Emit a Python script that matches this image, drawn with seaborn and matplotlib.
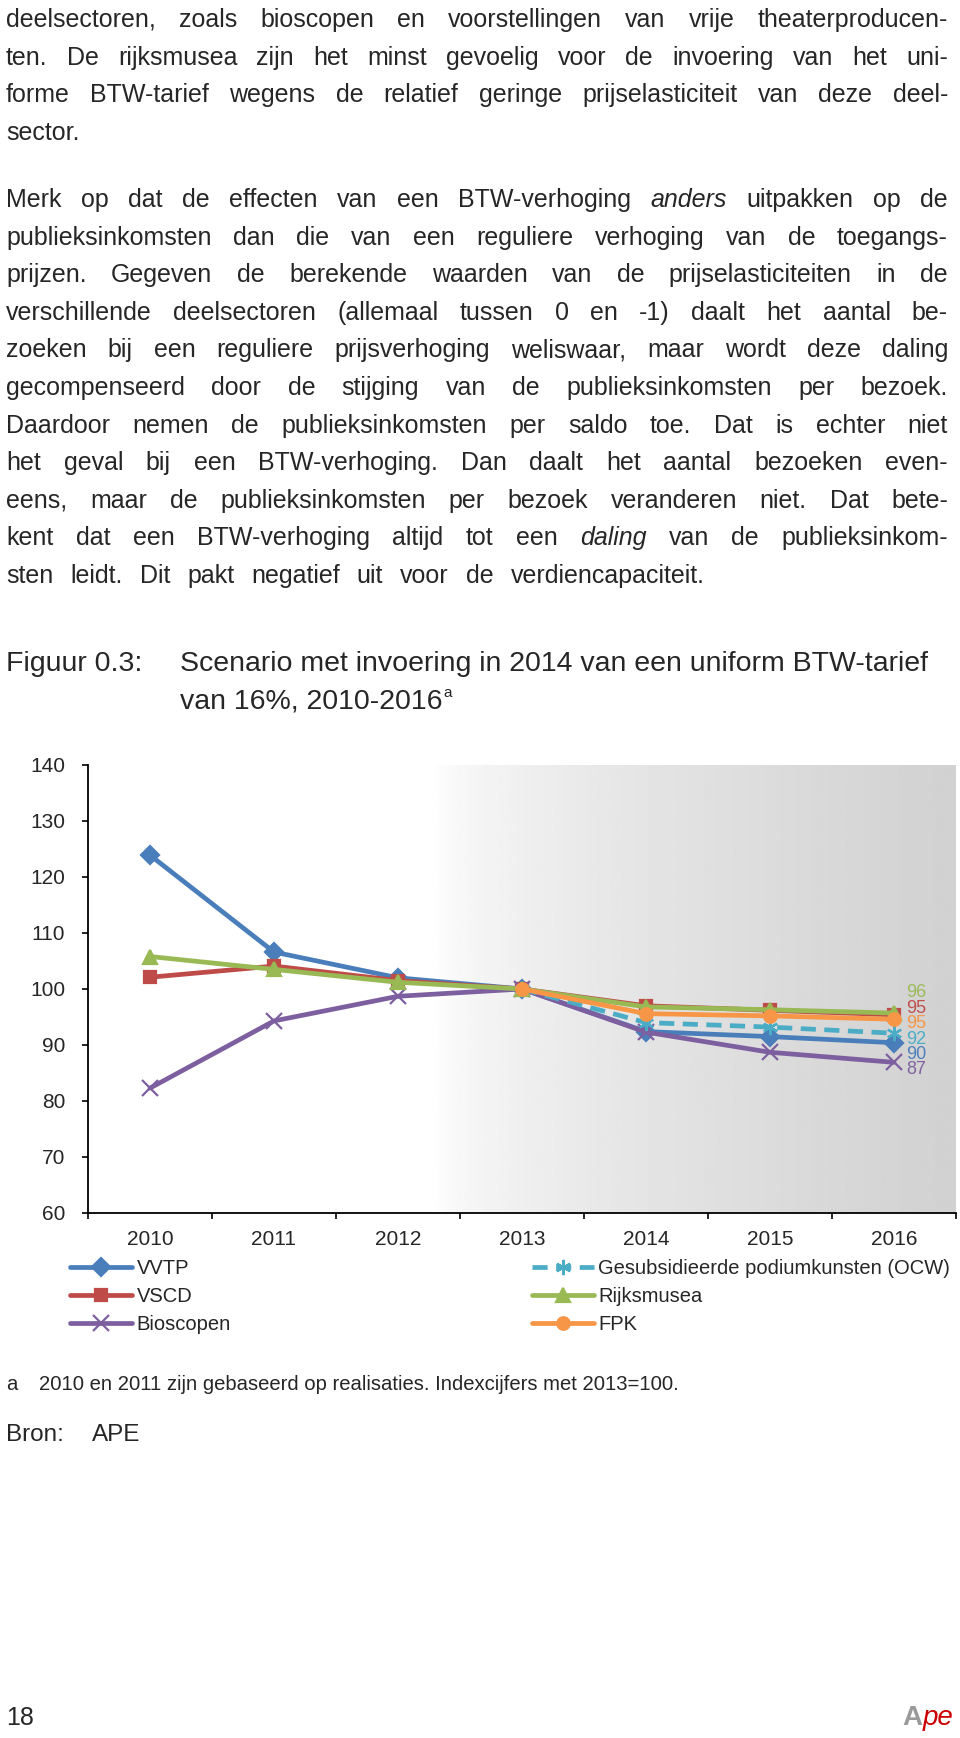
import numpy as np
import pandas as pd
import matplotlib
matplotlib.use("Agg")
import matplotlib.pyplot as plt
import seaborn as sns

W, H = 960, 1738
nan = np.nan

# chart data (index, 2013 = 100)
years = [2010, 2011, 2012, 2013, 2014, 2015, 2016]
vvtp = [123.9, 106.6, 102.0, 100.0, 92.4, 91.5, 90.4]
vscd = [102.1, 104.1, 101.5, 100.0, 97.0, 96.2, 95.4]
bioscopen = [82.3, 94.3, 98.7, 100.0, 92.3, 88.7, 86.9]
ocw = [nan, nan, nan, 100.0, 94.0, 93.2, 92.1]
rijksmusea = [105.8, 103.5, 101.2, 100.0, 96.8, 96.3, 95.7]
fpk = [nan, nan, nan, 100.0, 95.6, 95.2, 94.6]

names = ["VVTP", "VSCD", "Bioscopen", "Gesubsidieerde podiumkunsten (OCW)", "Rijksmusea", "FPK"]
series = [vvtp, vscd, bioscopen, ocw, rijksmusea, fpk]
colors = ["#4a7ebb", "#be4b48", "#7d5fa0", "#4bacc6", "#98b954", "#f79646"]
label_colors = ["#4f81bd", "#c0504d", "#8064a2", "#4bacc6", "#9bbb59", "#f79646"]
markers = ["D", "s", "x", (6, 2, 0), "^", "o"]
msizes = [9, 9, 11, 11, 10, 9]
# order of the stacked end labels, top to bottom
end_order = [4, 1, 5, 3, 0, 2]

para1 = [
    "deelsectoren, zoals bioscopen en voorstellingen van vrije theaterproducen-",
    "ten. De rijksmusea zijn het minst gevoelig voor de invoering van het uni-",
    "forme BTW-tarief wegens de relatief geringe prijselasticiteit van deze deel-",
    "sector.",
]
para2 = [
    "Merk op dat de effecten van een BTW-verhoging *anders* uitpakken op de",
    "publieksinkomsten dan die van een reguliere verhoging van de toegangs-",
    "prijzen. Gegeven de berekende waarden van de prijselasticiteiten in de",
    "verschillende deelsectoren (allemaal tussen 0 en -1) daalt het aantal be-",
    "zoeken bij een reguliere prijsverhoging weliswaar, maar wordt deze daling",
    "gecompenseerd door de stijging van de publieksinkomsten per bezoek.",
    "Daardoor nemen de publieksinkomsten per saldo toe. Dat is echter niet",
    "het geval bij een BTW-verhoging. Dan daalt het aantal bezoeken even-",
    "eens, maar de publieksinkomsten per bezoek veranderen niet. Dat bete-",
    "kent dat een BTW-verhoging altijd tot een *daling* van de publieksinkom-",
    "sten leidt. Dit pakt negatief uit voor de verdiencapaciteit.",
]

sns.set_style("ticks")
plt.rcParams["font.family"] = ["Liberation Sans", "DejaVu Sans"]

fig = plt.figure(figsize=(W / 100, H / 100), dpi=100)
r = fig.canvas.get_renderer()


def fy(y):
    return 1 - y / H


def body_line(y, text, justify, size=18, x0=6, x1=948):
    arts = []
    for w in text.split(" "):
        st = "italic" if w.startswith("*") else "normal"
        arts.append(fig.text(0, fy(y), w.strip("*"), fontsize=size, style=st, va="baseline"))
    widths = [a.get_window_extent(r).width for a in arts]
    if justify:
        gap = (x1 - x0 - sum(widths)) / (len(arts) - 1)
    else:
        gap = 17
    x = x0
    for a, w in zip(arts, widths):
        a.set_x(x / W)
        x += w + gap


step = 37.6
for i, line in enumerate(para1):
    body_line(27 + i * step, line, i < len(para1) - 1)
for i, line in enumerate(para2):
    body_line(207 + i * step, line, i < len(para2) - 1)

# figure title
fig.text(6 / W, fy(671), "Figuur 0.3:", fontsize=20.5, va="baseline")
fig.text(180 / W, fy(671), "Scenario met invoering in 2014 van een uniform BTW-tarief",
         fontsize=20.5, va="baseline")
t2 = fig.text(180 / W, fy(709), "van 16%, 2010-2016", fontsize=20.5, va="baseline")
w2 = t2.get_window_extent(r).width
fig.text((180 + w2 + 1) / W, fy(697), "a", fontsize=11, va="baseline")

# chart
ax = fig.add_axes([88 / W, fy(1213), 868 / W, 448 / H])
shade = 1 - 0.18 * np.linspace(0, 1, 300) ** 0.6
ax.imshow(shade[np.newaxis, :], extent=(2012.3, 2016.5, 60, 140), aspect="auto",
          cmap="gray", vmin=0, vmax=1, zorder=0, interpolation="bilinear")

for name, vals, c, m, ms in zip(names, series, colors, markers, msizes):
    sns.lineplot(x=years, y=vals, ax=ax, color=c, marker=m, markersize=ms, linewidth=3.4,
                 mec=c, mfc=c, mew=1.6, label=name, legend=False, zorder=3)
ax.lines[3].set_dashes([3.2, 1.8])

for i, idx in enumerate(end_order):
    ax.text(2016.1, 99.3 - 2.75 * i, f"{series[idx][-1]:.0f}", color=label_colors[idx],
            fontsize=13, va="center", ha="left")

ax.set_xlim(2009.5, 2016.5)
ax.set_ylim(60, 140)
ax.set_xticks(years)
ax.set_xticklabels([str(y) for y in years])
ax.set_xticks(np.arange(2009.5, 2017, 1), minor=True)
ax.set_yticks(range(60, 141, 10))
ax.tick_params(axis="x", which="major", length=0, pad=12, labelsize=15)
ax.tick_params(axis="x", which="minor", length=4.5, width=1.2, direction="out", color="black")
ax.tick_params(axis="y", length=4.5, width=1.2, pad=12, labelsize=15, color="black")
sns.despine(ax=ax)
for s in ["left", "bottom"]:
    ax.spines[s].set_color("black")
    ax.spines[s].set_linewidth(1.3)
ax.set_xlabel("")
ax.set_ylabel("")

lines = ax.get_lines()
leg_kw = dict(loc="upper left", frameon=False, fontsize=14.5, handlelength=3.1,
              handletextpad=0.2, labelspacing=0.45, borderpad=0, borderaxespad=0,
              bbox_transform=fig.transFigure)
leg1 = ax.legend(handles=lines[:3], labels=names[:3], bbox_to_anchor=(70 / W, fy(1259)), **leg_kw)
ax.add_artist(leg1)
ax.legend(handles=lines[3:6], labels=names[3:6], bbox_to_anchor=(532 / W, fy(1259)), **leg_kw)

# footnote and source
fig.text(6 / W, fy(1390), "a", fontsize=14.6, va="baseline")
fig.text(39 / W, fy(1390), "2010 en 2011 zijn gebaseerd op realisaties. Indexcijfers met 2013=100.",
         fontsize=14.6, va="baseline")
fig.text(6 / W, fy(1441), "Bron:", fontsize=17.5, va="baseline")
fig.text(92 / W, fy(1441), "APE", fontsize=17.5, va="baseline")

# page footer
fig.text(6 / W, fy(1725), "18", fontsize=18, va="baseline")
pe = fig.text(953 / W, fy(1725), "pe", fontsize=20, style="italic", color="#cc0000",
              va="baseline", ha="right")
wpe = pe.get_window_extent(r).width
fig.text((953 - wpe) / W, fy(1725), "A", fontsize=20, weight="bold", color="#9a9a9a",
         va="baseline", ha="right")

fig.savefig("out.png", dpi=100)
